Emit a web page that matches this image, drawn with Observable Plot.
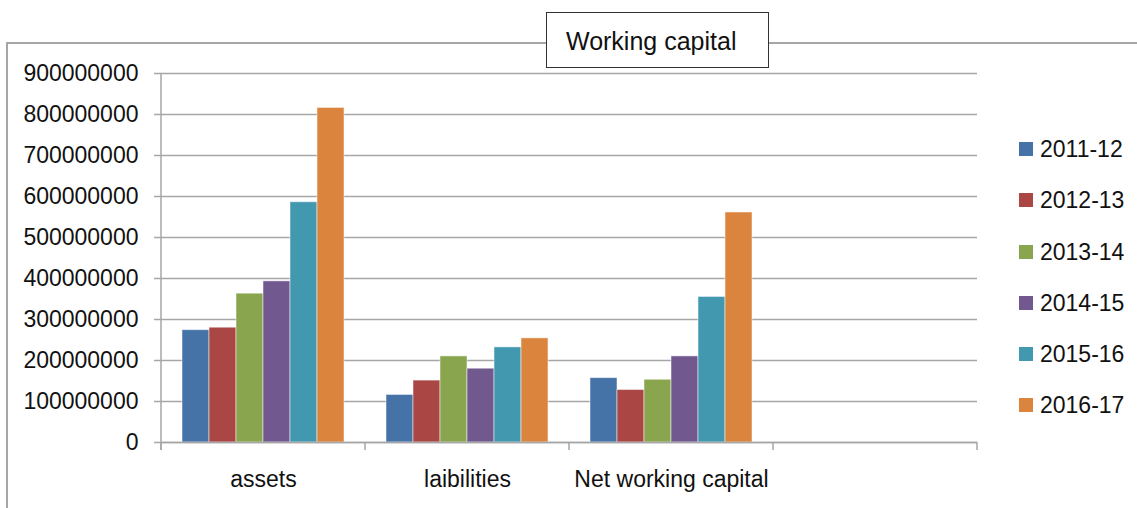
<!DOCTYPE html>
<html><head><meta charset="utf-8">
<script src="https://cdn.jsdelivr.net/npm/d3@7"></script>
<script src="https://cdn.jsdelivr.net/npm/@observablehq/plot@0.6"></script>
<style>
html,body{margin:0;padding:0;background:#fff;}
body{width:1137px;height:508px;overflow:hidden;position:relative;font-family:"Liberation Sans",Arial,sans-serif;}
#frame{position:absolute;left:6px;top:42px;width:1140px;height:480px;border-left:2px solid #a6a6a6;border-top:2px solid #a6a6a6;}
#chart{position:absolute;left:0;top:0;}
#title{position:absolute;left:546px;top:12px;width:202px;height:54px;border:1.5px solid #333;background:#fff;font-size:25px;line-height:56px;padding-left:19px;color:#111;box-sizing:content-box;}
#legend{position:absolute;left:1019px;top:0;}
.item{position:absolute;left:0;display:flex;align-items:center;white-space:nowrap;font-size:23px;line-height:26px;color:#111;}
.sw{width:14px;height:14px;margin-right:7px;}
</style></head><body>
<div id="frame"></div>
<div id="chart"></div>
<div id="title">Working capital</div>
<div id="legend"></div>
<script>
const categories = ["assets", "laibilities", "Net working capital", ""];
const years = ["2011-12", "2012-13", "2013-14", "2014-15", "2015-16", "2016-17"];
const assets = [274e6, 280e6, 363e6, 393e6, 586e6, 816e6];
const liabilities = [116e6, 151e6, 210e6, 180e6, 232e6, 254e6];
const netWorkingCapital = [157e6, 128e6, 153e6, 210e6, 355e6, 561e6];
const emptySlot = [null, null, null, null, null, null];
const colors = ["#4572A7", "#AA4643", "#89A54E", "#71588F", "#4198AF", "#DB843D"];
const yTicks = [0, 1e8, 2e8, 3e8, 4e8, 5e8, 6e8, 7e8, 8e8, 9e8];

const series = [assets, liabilities, netWorkingCapital, emptySlot];
const rows = [];
series.forEach((vals, ci) => vals.forEach((v, yi) => rows.push({category: categories[ci], year: years[yi], value: v})));

const gray = "#a6a6a6";
const plot = Plot.plot({
  width: 1000, height: 508,
  marginLeft: 160, marginRight: 22, marginTop: 73, marginBottom: 66,
  style: {fontFamily: "'Liberation Sans', Arial, sans-serif", fontSize: "23px", color: "#111", background: "transparent", overflow: "visible"},
  facet: {data: rows, x: "category"},
  fx: {domain: categories, padding: 0, label: null, tickSize: 0, tickPadding: 28, axis: "bottom"},
  x: {domain: years, paddingInner: 0, paddingOuter: 0.75, axis: null},
  y: {domain: [0, 9e8], ticks: yTicks, tickFormat: d => String(d), tickSize: 7, tickPadding: 16, label: null},
  color: {domain: years, range: colors},
  marks: [
    Plot.ruleY(yTicks, {stroke: gray, strokeWidth: 1.5}),
    Plot.barY(rows, {x: "year", y: "value", fill: "year", stroke: "#fff", strokeOpacity: 0.5, strokeWidth: 1}),
    Plot.ruleY([0], {stroke: gray, strokeWidth: 1.5})
  ]
});
document.getElementById("chart").appendChild(plot);

// axis line and category boundary ticks, from the plot's own scales
const svg = d3.select(plot.tagName.toLowerCase() === "svg" ? plot : plot.querySelector("svg"));
svg.selectAll('[aria-label^="y-axis"] line, [aria-label^="y-axis"] path').attr("stroke", gray).style("stroke", gray).style("stroke-width", "1.5px");
const fx = plot.scale("fx");
const ys = plot.scale("y");
const y0 = Math.max(...ys.range), yTop = Math.min(...ys.range);
const [r0, r1] = fx.range;
const n = fx.domain.length;
const bounds = d3.range(n + 1).map(i => fx.apply && i < n ? fx.apply(fx.domain[i]) : (fx.apply ? fx.apply(fx.domain[n-1]) + fx.bandwidth : r0 + i * (r1 - r0) / n));
const g = svg.append("g").attr("stroke", gray).attr("stroke-width", 1.5);
g.append("line").attr("x1", bounds[0]).attr("x2", bounds[0]).attr("y1", yTop).attr("y2", y0 + 8);
bounds.forEach(x => g.append("line").attr("x1", x).attr("x2", x).attr("y1", y0).attr("y2", y0 + 8));

// legend
const centers = [149, 200, 252, 303, 354, 405];
const leg = d3.select("#legend");
years.forEach((yr, i) => {
  const it = leg.append("div").attr("class", "item").style("top", (centers[i] - 13) + "px");
  it.append("div").attr("class", "sw").style("background", colors[i]);
  it.append("span").text(yr);
});
</script>
</body></html>
